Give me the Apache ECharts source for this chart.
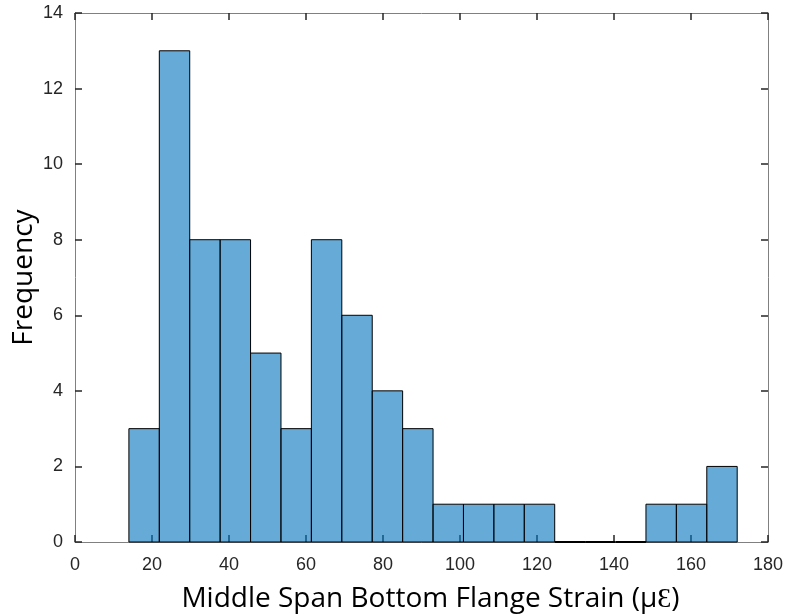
<!DOCTYPE html>
<html>
<head>
<meta charset="utf-8">
<script src="https://cdn.jsdelivr.net/npm/echarts@6/dist/echarts.min.js"></script>
<style>html,body{margin:0;padding:0;background:#fff}#c{width:787px;height:614px}</style>
</head>
<body>
<div id="c"></div>
<script>
// Histogram bin edges (µƐ) and counts
var binEdges = [14.0, 21.9, 29.8, 37.7, 45.6, 53.5, 61.4, 69.3, 77.2, 85.1, 93.0, 100.9, 108.8, 116.7, 124.6, 132.5, 140.4, 148.3, 156.2, 164.1, 172.0];
var counts = [3, 13, 8, 8, 5, 3, 8, 6, 4, 3, 1, 1, 1, 1, 0, 0, 0, 1, 1, 2];
var xTicks = [0, 20, 40, 60, 80, 100, 120, 140, 160, 180];
var yTicks = [0, 2, 4, 6, 8, 10, 12, 14];
var xTitle = 'Middle Span Bottom Flange Strain (µƐ)';
var yTitle = 'Frequency';

var data = counts.map(function (c, i) { return [binEdges[i], binEdges[i + 1], c]; });

var chart = echarts.init(document.getElementById('c'), null, { renderer: 'canvas' });
var axisCol = '#262626';
var tickLabel = { color: '#262626', fontFamily: 'Liberation Sans', fontSize: 18 };
function frameAxis(pos) {
  return {
    axisLine: { show: true, onZero: false, lineStyle: { color: '#808080', width: 1 } },
    axisTick: { show: true, inside: true, length: 7, lineStyle: { color: axisCol, width: 1.5 } },
    splitLine: { show: false },
    position: pos
  };
}
chart.setOption({
  animation: false,
  grid: { left: 75, right: 19, top: 13, bottom: 72, containLabel: false, outerBoundsMode: 'none' },
  xAxis: [Object.assign(frameAxis('bottom'), {
    type: 'value', min: xTicks[0], max: xTicks[xTicks.length - 1], interval: 20,
    axisLabel: Object.assign({ margin: 14 }, tickLabel),
    name: xTitle, nameLocation: 'middle', nameGap: 43, nameMoveOverlap: false,
    nameTextStyle: { fontFamily: 'Open Sans', fontSize: 28, color: '#000', padding: [0, 0, 0, 18] }
  }), Object.assign(frameAxis('top'), {
    type: 'value', min: xTicks[0], max: xTicks[xTicks.length - 1], interval: 20,
    axisLabel: { show: false }
  })],
  yAxis: [Object.assign(frameAxis('left'), {
    type: 'value', min: yTicks[0], max: yTicks[yTicks.length - 1], interval: 2,
    axisLabel: Object.assign({ margin: 12 }, tickLabel),
    name: yTitle, nameLocation: 'middle', nameGap: 37, nameMoveOverlap: false,
    nameTextStyle: { fontFamily: 'Open Sans', fontSize: 28, color: '#000' }
  }), Object.assign(frameAxis('right'), {
    type: 'value', min: yTicks[0], max: yTicks[yTicks.length - 1], interval: 2,
    axisLabel: { show: false }
  })],
  series: [{
    type: 'custom',
    xAxisIndex: 0, yAxisIndex: 0,
    data: data,
    encode: { x: [0, 1], y: 2 },
    renderItem: function (params, api) {
      var p0 = api.coord([api.value(0), 0]);
      var p1 = api.coord([api.value(1), api.value(2)]);
      var h = p0[1] - p1[1];
      if (h <= 0.5) {
        return { type: 'line', shape: { x1: p0[0], y1: p0[1], x2: p1[0], y2: p0[1] },
          style: { stroke: '#000', lineWidth: 2 } };
      }
      return {
        type: 'rect',
        shape: { x: p0[0], y: p1[1], width: p1[0] - p0[0], height: h },
        style: { fill: 'rgba(0,114,189,0.6)', stroke: '#000', lineWidth: 1 }
      };
    }
  }]
});
</script>
</body>
</html>
